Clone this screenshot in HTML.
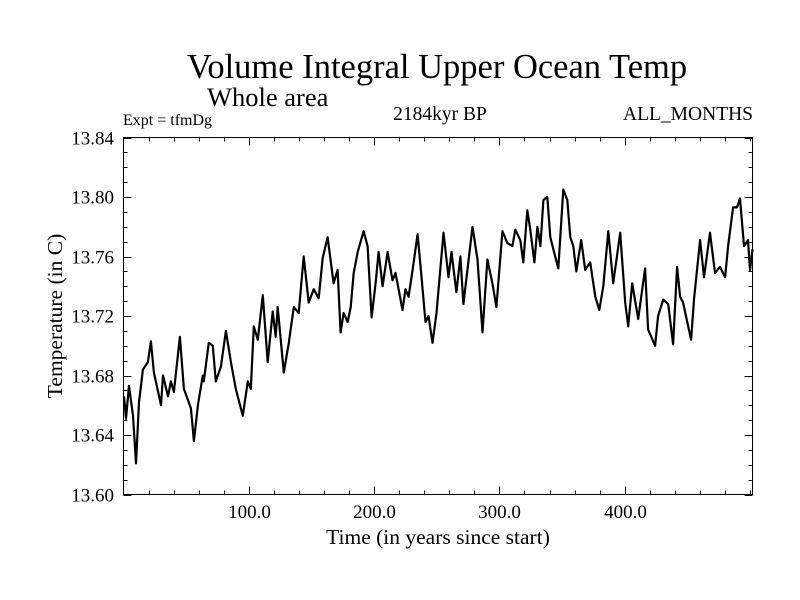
<!DOCTYPE html>
<html><head><meta charset="utf-8"><style>
html,body{margin:0;padding:0;background:#fff;}
svg{display:block;font-family:"Liberation Serif",serif;}
</style></head><body>
<svg id="chart" width="800" height="600" viewBox="0 0 800 600">
<text x="437" y="78" font-size="34.5" text-anchor="middle">Volume Integral Upper Ocean Temp</text>
<text x="207" y="106" font-size="26.5">Whole area</text>
<text x="123" y="125" font-size="16">Expt = tfmDg</text>
<text x="440" y="120" font-size="19.5" text-anchor="middle">2184kyr BP</text>
<text x="753" y="120" font-size="19.5" text-anchor="end">ALL_MONTHS</text>
<text x="438" y="544" font-size="21.5" text-anchor="middle">Time (in years since start)</text>
<text transform="translate(62,316) rotate(-90)" font-size="21.5" text-anchor="middle">Temperature (in C)</text>
<g id="axes"></g>
<path id="series" fill="none" stroke="#000" stroke-width="2.2" stroke-linejoin="round"></path>
<rect x="123.5" y="137.5" width="629" height="357" fill="none" stroke="#000" stroke-width="1"></rect>
</svg>
<script>
const years=[0.4,2.0,4.4,7.6,10.0,12.4,15.5,19.5,21.9,24.3,29.9,31.5,35.5,37.8,40.2,45.0,48.2,53.8,56.2,59.4,63.3,64.1,68.1,71.3,73.7,77.7,81.7,85.7,89.6,95.2,99.2,101.6,104.0,107.2,111.2,115.1,119.1,121.5,123.1,127.9,131.9,135.9,139.8,143.8,147.8,151.8,155.8,159.0,162.9,167.7,170.9,173.3,175.7,178.9,181.3,183.7,186.9,191.6,194.8,198.0,201.2,203.6,206.8,210.8,214.7,217.1,222.7,225.1,227.5,230.7,234.7,237.1,241.0,243.4,246.6,249.8,255.4,259.4,261.8,265.7,268.9,271.3,278.5,282.5,286.5,290.4,294.4,297.6,302.4,306.4,310.4,312.7,316.7,319.1,322.3,324.7,327.9,330.3,332.7,335.1,338.2,340.6,343.0,347.0,351.0,354.2,356.6,359.0,361.4,365.3,368.5,372.5,376.5,379.7,382.9,386.9,390.8,396.4,400.4,402.8,406.0,410.8,416.3,418.7,424.3,426.7,430.7,434.7,438.6,441.8,444.2,446.6,453.0,455.4,460.2,463.3,468.1,472.1,476.1,480.1,482.5,486.5,489.6,492.0,495.2,498.4,500.0,502.0];
const temps=[13.666,13.651,13.673,13.653,13.621,13.662,13.684,13.689,13.703,13.682,13.660,13.680,13.666,13.676,13.669,13.706,13.671,13.658,13.636,13.660,13.680,13.676,13.702,13.700,13.676,13.686,13.710,13.689,13.671,13.653,13.676,13.671,13.713,13.704,13.734,13.689,13.723,13.706,13.726,13.682,13.702,13.726,13.722,13.760,13.729,13.738,13.732,13.759,13.773,13.742,13.751,13.709,13.722,13.716,13.726,13.749,13.763,13.777,13.767,13.719,13.742,13.763,13.740,13.763,13.744,13.749,13.724,13.738,13.733,13.751,13.775,13.753,13.716,13.720,13.702,13.722,13.776,13.746,13.763,13.736,13.760,13.728,13.780,13.758,13.709,13.758,13.742,13.726,13.777,13.769,13.767,13.778,13.771,13.756,13.791,13.778,13.756,13.780,13.767,13.798,13.800,13.773,13.765,13.752,13.805,13.798,13.773,13.767,13.750,13.771,13.751,13.756,13.733,13.724,13.740,13.777,13.742,13.776,13.729,13.713,13.742,13.718,13.752,13.711,13.700,13.720,13.731,13.728,13.701,13.753,13.733,13.729,13.704,13.732,13.771,13.746,13.776,13.749,13.753,13.746,13.767,13.793,13.793,13.799,13.767,13.771,13.751,13.765];
const yTickValues=[13.60,13.64,13.68,13.72,13.76,13.80,13.84];
const yTickLabels=["13.60","13.64","13.68","13.72","13.76","13.80","13.84"];
const xTickValues=[100,200,300,400];
const xTickLabels=["100.0","200.0","300.0","400.0"];

const X0=123.5,X1=752.5,Y0=494.5,Y1=137.5,XMIN=0,XMAX=502,YMIN=13.60,YMAX=13.84;
function sx(v){return X0+(v-XMIN)/(XMAX-XMIN)*(X1-X0);}
function sy(v){return Y0-(v-YMIN)/(YMAX-YMIN)*(Y0-Y1);}
const NS="http://www.w3.org/2000/svg";
const axes=document.getElementById('axes');
function line(x1,y1,x2,y2,name){
  const l=document.createElementNS(NS,'line');
  l.setAttribute('x1',x1);l.setAttribute('y1',y1);l.setAttribute('x2',x2);l.setAttribute('y2',y2);
  l.setAttribute('stroke','#000');l.setAttribute('stroke-width','1');
  
  
  axes.appendChild(l);
}
function text(x,y,s,anchor,name){
  const t=document.createElementNS(NS,'text');
  t.setAttribute('x',x);t.setAttribute('y',y);t.setAttribute('font-size','19');t.setAttribute('text-anchor',anchor);
  t.textContent=s;
  
  
  axes.appendChild(t);
}
for(let v=13.60;v<=13.8401;v+=0.01){
  const y=Math.round(sy(v))+0.5;
  line(X0,y,X0+4,y,'y-minor-tick');
  line(X1,y,X1-4,y,'y-minor-tick-right');
}
yTickValues.forEach((v,i)=>{
  const y=Math.round(sy(v))+0.5;
  line(X0,y,X0+8,y,'y-major-tick');
  line(X1,y,X1-8,y,'y-major-tick-right');
  text(114,y+6,yTickLabels[i],'end','y-tick-label');
});
for(let v=20;v<XMAX;v+=20){
  const x=Math.round(sx(v))+0.5;
  line(x,Y0,x,Y0-4,'x-minor-tick');
  line(x,Y1,x,Y1+4,'x-minor-tick-top');
}
xTickValues.forEach((v,i)=>{
  const x=Math.round(sx(v))+0.5;
  line(x,Y0,x,Y0-8,'x-major-tick');
  line(x,Y1,x,Y1+8,'x-major-tick-top');
  text(x,518,xTickLabels[i],'middle','x-tick-label');
});
let d='';
years.forEach((yr,i)=>{d+=(i?'L':'M')+sx(yr).toFixed(1)+','+sy(temps[i]).toFixed(1);});
document.getElementById('series').setAttribute('d',d);
</script>
</body></html>
